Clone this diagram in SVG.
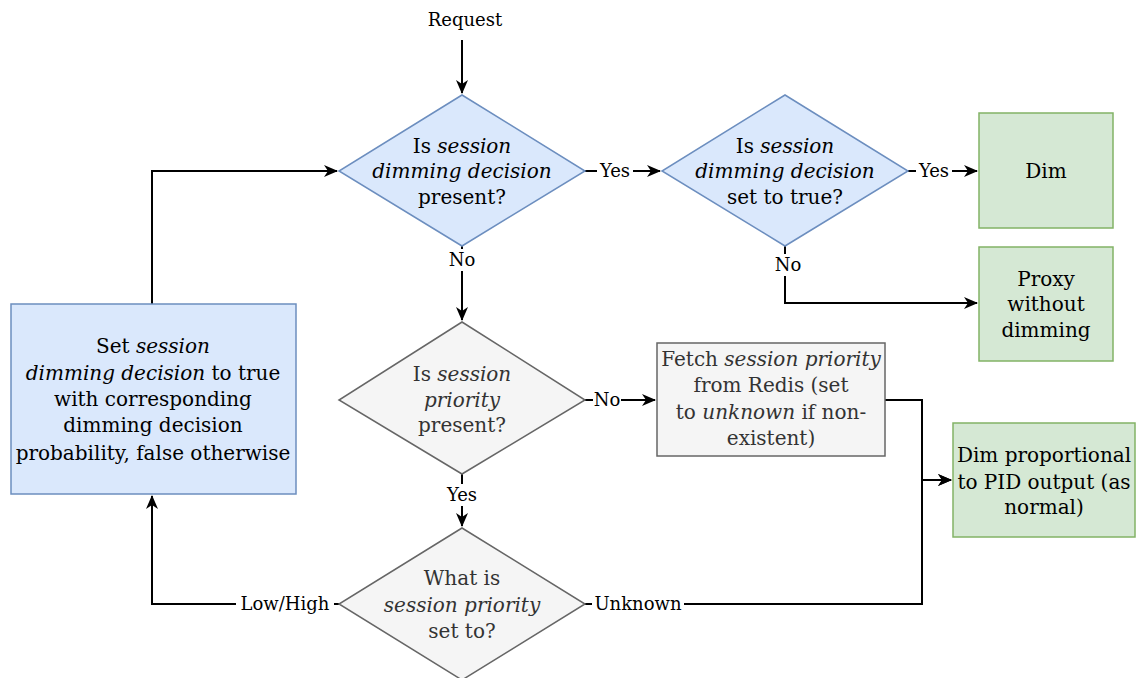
<svg xmlns="http://www.w3.org/2000/svg" width="1136" height="678" viewBox="0 0 1136 678">
<style>
text{font-family:"DejaVu Serif","Liberation Serif",serif;font-size:20px;text-anchor:middle;fill:#000}
.g text,text.g{fill:#333}
.lbl{font-size:18px}
.blue{fill:#dae8fc;stroke:#6c8ebf;stroke-width:1.5}
.gray{fill:#f5f5f5;stroke:#666;stroke-width:1.5}
.green{fill:#d5e8d4;stroke:#82b366;stroke-width:1.5}
.e{fill:none;stroke:#000;stroke-width:2}
.lb{fill:#fff}
</style>
<defs>
<marker id="ah" viewBox="0 0 14 12" refX="13" refY="6" markerWidth="14" markerHeight="12" markerUnits="userSpaceOnUse" orient="auto">
<path d="M0,0 L14,6 L0,12 L4,6 z" fill="#000"/>
</marker>
</defs>
<rect width="1136" height="678" fill="#fff"/>
<g id="connectors">
<path class="e" d="M462,40 V93" marker-end="url(#ah)"/>
<path class="e" d="M585,171 H660" marker-end="url(#ah)"/>
<path class="e" d="M908,171 H977" marker-end="url(#ah)"/>
<path class="e" d="M462,246 V320" marker-end="url(#ah)"/>
<path class="e" d="M785,246 V303 H977" marker-end="url(#ah)"/>
<path class="e" d="M585,400 H655" marker-end="url(#ah)"/>
<path class="e" d="M462,474 V526" marker-end="url(#ah)"/>
<path class="e" d="M885,400 H922 V480 H951" marker-end="url(#ah)"/>
<path class="e" d="M585,604 H922 V480 H951" marker-end="url(#ah)"/>
<path class="e" d="M339,604 H152 V496" marker-end="url(#ah)"/>
<path class="e" d="M152,304 V171 H337" marker-end="url(#ah)"/>
<g class="labels">
<rect class="lb" x="597" y="160" width="36" height="22"/><text class="lbl" x="615" y="177">Yes</text>
<rect class="lb" x="916" y="160" width="36" height="22"/><text class="lbl" x="934" y="177">Yes</text>
<rect class="lb" x="448" y="249" width="28" height="22"/><text class="lbl" x="462" y="266">No</text>
<rect class="lb" x="774" y="254" width="28" height="22"/><text class="lbl" x="788" y="271">No</text>
<rect class="lb" x="593" y="389" width="28" height="22"/><text class="lbl" x="607" y="406">No</text>
<rect class="lb" x="444" y="484" width="36" height="22"/><text class="lbl" x="462" y="501">Yes</text>
<rect class="lb" x="592" y="593" width="92" height="22"/><text class="lbl" x="638" y="610">Unknown</text>
<rect class="lb" x="236" y="593" width="98" height="22"/><text class="lbl" x="285" y="610">Low/High</text>
</g>
</g>
<g id="request"><text class="lbl" x="465" y="26">Request</text></g>
<g id="d1">
<polygon class="blue" points="462,95 585,171 462,246 339,171"/>
<text x="462" y="153">Is <tspan font-style="italic">session</tspan></text>
<text x="462" y="178" font-style="italic">dimming decision</text>
<text x="462" y="204">present?</text>
</g>
<g id="d2">
<polygon class="blue" points="785,95 908,171 785,246 662,171"/>
<text x="785" y="153">Is <tspan font-style="italic">session</tspan></text>
<text x="785" y="178" font-style="italic">dimming decision</text>
<text x="785" y="204">set to true?</text>
</g>
<g id="dim">
<rect class="green" x="979" y="113" width="134" height="115"/>
<text x="1046" y="178">Dim</text>
</g>
<g id="proxy">
<rect class="green" x="979" y="247" width="134" height="114"/>
<text x="1046" y="286">Proxy</text>
<text x="1046" y="311">without</text>
<text x="1046" y="337">dimming</text>
</g>
<g id="d3" class="g">
<polygon class="gray" points="462,322 585,400 462,474 339,400"/>
<text x="462" y="381">Is <tspan font-style="italic">session</tspan></text>
<text x="462" y="407" font-style="italic">priority</text>
<text x="462" y="432">present?</text>
</g>
<g id="fetch" class="g">
<rect class="gray" x="657" y="343" width="228" height="113"/>
<text x="771" y="366">Fetch <tspan font-style="italic">session priority</tspan></text>
<text x="771" y="392">from Redis (set</text>
<text x="771" y="419">to <tspan font-style="italic">unknown</tspan> if non-</text>
<text x="771" y="445">existent)</text>
</g>
<g id="dimprop">
<rect class="green" x="953" y="423" width="182" height="114"/>
<text x="1044" y="462">Dim proportional</text>
<text x="1044" y="489">to PID output (as</text>
<text x="1044" y="514">normal)</text>
</g>
<g id="d4" class="g">
<polygon class="gray" points="462,528 585,604 462,680 339,604"/>
<text x="462" y="585">What is</text>
<text x="462" y="612" font-style="italic">session priority</text>
<text x="462" y="638">set to?</text>
</g>
<g id="setbox">
<rect class="blue" x="11" y="304" width="285" height="190"/>
<text x="153" y="353">Set <tspan font-style="italic">session</tspan></text>
<text x="153" y="380"><tspan font-style="italic">dimming decision</tspan> to true</text>
<text x="153" y="406">with corresponding</text>
<text x="153" y="432">dimming decision</text>
<text x="153" y="460">probability, false otherwise</text>
</g>
</svg>
